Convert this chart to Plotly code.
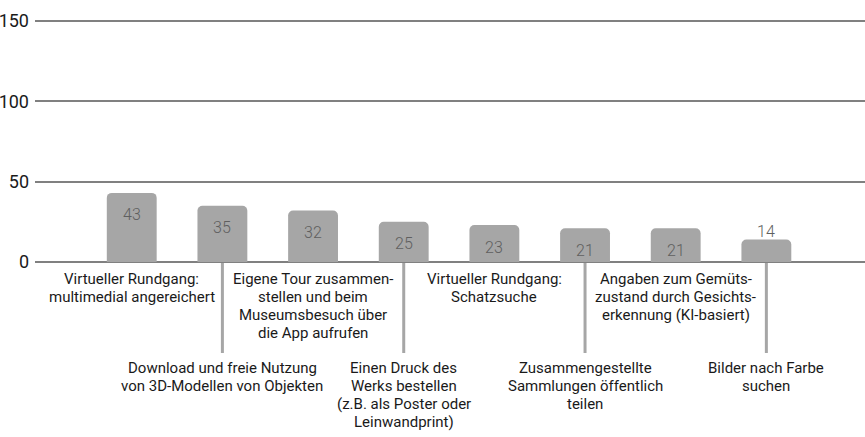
import plotly.graph_objects as go

# Survey answers (share of respondents) per app feature
categories = [
    "Virtueller Rundgang:<br>multimedial angereichert",
    "Download und freie Nutzung<br>von 3D-Modellen von Objekten",
    "Eigene Tour zusammen-<br>stellen und beim<br>Museumsbesuch über<br>die App aufrufen",
    "Einen Druck des<br>Werks bestellen<br>(z.B. als Poster oder<br>Leinwandprint)",
    "Virtueller Rundgang:<br>Schatzsuche",
    "Zusammengestellte<br>Sammlungen öffentlich<br>teilen",
    "Angaben zum Gemüts-<br>zustand durch Gesichts-<br>erkennung (KI-basiert)",
    "Bilder nach Farbe<br>suchen",
]
values = [43, 35, 32, 25, 23, 21, 21, 14]
y_ticks = [0, 50, 100, 150]

FONT = "Roboto, Liberation Sans, sans-serif"
BAR_COLOR = "#a6a6a6"
GRID_COLOR = "#808080"
TEXT_COLOR = "#1a1a1a"
VALUE_COLOR = "#5f5f5f"

W, H = 865, 437
M_TOP, M_LEFT = 18, 35
PLOT_H = H - M_TOP
BASELINE_PX = 262          # pixel row of the zero line
px_per_unit = (BASELINE_PX - 21) / 150
Y_TOP = (BASELINE_PX - M_TOP) / px_per_unit
Y_MIN = -(PLOT_H / px_per_unit - Y_TOP)

LINE_STEP = 18             # label line spacing in px
UPPER_FIRST = 17           # first label line below baseline (px)
LOWER_FIRST = 106          # first line of the staggered labels (px)
LEADER_PX = 91             # length of the leader lines (px)

x = list(range(len(values)))

fig = go.Figure(
    go.Bar(
        x=x,
        y=values,
        width=0.55,
        marker=dict(color=BAR_COLOR, line=dict(width=0)),
        hoverinfo="skip",
    )
)

annotations = []
shapes = []

# value labels: inside near the top, above the bar when it is too short
for i, v in enumerate(values):
    inside = v >= 20
    annotations.append(dict(
        x=i, y=v, xref="x", yref="y",
        text=str(v), showarrow=False,
        yanchor="middle",
        yshift=-22 if inside else 8,
        font=dict(family=FONT, size=16, color=VALUE_COLOR, weight=300),
    ))

# category labels, alternating between two rows; the lower row gets a leader line
for i, label in enumerate(categories):
    lower = i % 2 == 1
    first = LOWER_FIRST if lower else UPPER_FIRST
    for k, line in enumerate(label.split("<br>")):
        annotations.append(dict(
            x=i, y=0, xref="x", yref="y",
            text=line, showarrow=False,
            yanchor="middle", xanchor="center",
            yshift=-(first + k * LINE_STEP),
            font=dict(family=FONT, size=15, color=TEXT_COLOR),
        ))
    if lower:
        shapes.append(dict(
            type="line", xref="x", yref="y",
            x0=i, x1=i, y0=0, y1=-LEADER_PX / px_per_unit,
            line=dict(color=BAR_COLOR, width=3),
            layer="below",
        ))

fig.update_layout(
    width=W, height=H,
    margin=dict(l=M_LEFT, r=0, t=M_TOP, b=0, pad=0),
    paper_bgcolor="white",
    plot_bgcolor="white",
    showlegend=False,
    barcornerradius=5,
    annotations=annotations,
    shapes=shapes,
    xaxis=dict(
        range=[-1.067, 8.088],
        showgrid=False, zeroline=False, showticklabels=False,
        showline=False, fixedrange=True,
    ),
    yaxis=dict(
        range=[Y_MIN, Y_TOP],
        tickvals=y_ticks,
        showgrid=True, gridcolor=GRID_COLOR, gridwidth=1.5,
        zeroline=True, zerolinecolor=GRID_COLOR, zerolinewidth=1.5,
        showline=False,
        ticks="", ticklabelstandoff=5,
        tickfont=dict(family=FONT, size=18, color=TEXT_COLOR),
        fixedrange=True,
    ),
)

fig.write_html("out.html")
